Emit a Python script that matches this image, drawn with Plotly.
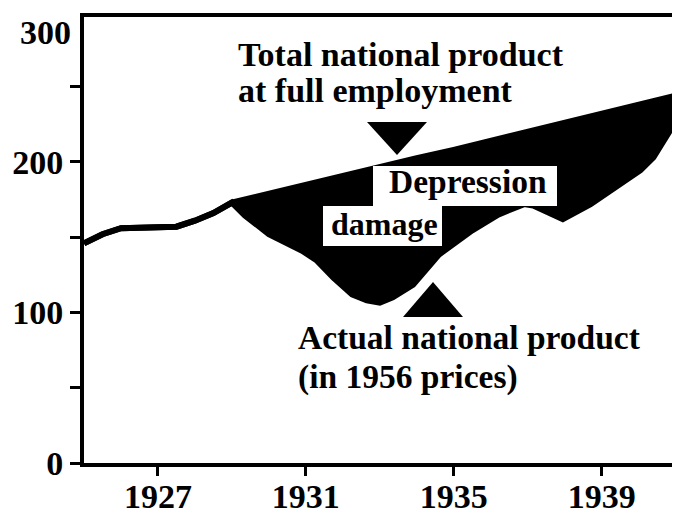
import plotly.graph_objects as go

# ---- data ----
years_potential = [1925.0, 1925.5, 1926.0, 1927.0, 1927.5, 1928.0, 1928.5, 1929.0,
                   1930, 1931, 1932, 1933, 1934, 1935, 1936, 1937, 1938, 1939, 1940, 1941]
potential = [146, 152, 156, 156.5, 157, 161, 166, 173,
             179, 185, 191, 197, 202.5, 208, 214, 220, 226, 232, 238, 244]

years_actual = [1925.0, 1925.5, 1926.0, 1927.0, 1927.5, 1928.0, 1928.5, 1929.0,
                1929.35, 1930.0, 1930.9, 1931.3, 1931.75, 1932.25, 1932.65, 1933.0,
                1933.35, 1933.9, 1934.6, 1935.5, 1936.2, 1936.9, 1937.15, 1937.95,
                1938.7, 1940.05, 1940.4, 1940.85, 1941]
actual = [146, 152, 156, 156.5, 157, 161, 166, 173,
          164.5, 152, 141, 134.5, 123, 112, 108, 106.5,
          110, 118.5, 138.5, 154.5, 165, 172, 171, 162,
          172, 194.5, 203, 221, 225]

x_tickvals = [1927, 1931, 1935, 1939]
x_ticktext = ["1927", "1931", "1935", "1939"]
y_tickvals = [0, 50, 100, 150, 200, 250]
y_ticktext = ["0", "", "100", "", "200", ""]

# ---- layout geometry (page body has an 8px margin) ----
OFF = 8
W, H = 680 - OFF, 513 - OFF
ML, MT = 84 - OFF, 17 - OFF
PW, PH = 589, 446
MR, MB = W - ML - PW, H - MT - PH


def px(xs):
    return (xs - OFF - ML) / PW


def py(ys):
    return (H - MB - (ys - OFF)) / PH


FONT = "Liberation Serif"

fig = go.Figure()
fig.add_trace(go.Scatter(x=years_potential, y=potential, mode="lines",
                         line=dict(color="black", width=6), showlegend=False,
                         hoverinfo="skip"))
fig.add_trace(go.Scatter(x=years_actual, y=actual, mode="lines",
                         line=dict(color="black", width=6), fill="tonexty",
                         fillcolor="black", showlegend=False, hoverinfo="skip"))

shapes = []
# white label boxes
shapes.append(dict(type="rect", xref="paper", yref="paper",
                   x0=px(373), x1=px(557), y0=py(206), y1=py(166),
                   fillcolor="white", line=dict(width=0), layer="above"))
shapes.append(dict(type="rect", xref="paper", yref="paper",
                   x0=px(323), x1=px(442), y0=py(246), y1=py(206),
                   fillcolor="white", line=dict(width=0), layer="above"))
# pointer triangles
shapes.append(dict(type="path", xref="paper", yref="paper",
                   path=f"M {px(367)},{py(122)} L {px(427)},{py(122)} L {px(397)},{py(155)} Z",
                   fillcolor="black", line=dict(width=0), layer="above"))
shapes.append(dict(type="path", xref="paper", yref="paper",
                   path=f"M {px(403)},{py(317)} L {px(463)},{py(317)} L {px(433)},{py(282)} Z",
                   fillcolor="black", line=dict(width=0), layer="above"))


def ann(text, x, y, xanchor="left", size=33.5):
    return dict(text=text, xref="paper", yref="paper", x=px(x), y=py(y),
                xanchor=xanchor, yanchor="middle", showarrow=False,
                font=dict(family=FONT, size=size, color="black", weight="bold"))


annotations = [
    ann("Total national product", 236, 54, size=34),
    ann("at full employment", 236, 90, size=34),
    ann("Depression", 387, 182, size=33.5),
    ann("damage", 329, 224, size=32),
    ann("Actual national product", 296, 337, size=33.5),
    ann("(in 1956 prices)", 296, 377, size=33.5),
    ann("300", 73, 33, xanchor="right", size=34),
]

fig.update_layout(
    width=W, height=H,
    margin=dict(l=ML, r=MR, t=MT, b=MB, autoexpand=False),
    paper_bgcolor="white", plot_bgcolor="white",
    shapes=shapes, annotations=annotations,
    xaxis=dict(range=[1925.0, 1940.93], tickvals=x_tickvals, ticktext=x_ticktext,
               ticks="outside", ticklen=9, tickwidth=3, tickcolor="black",
               ticklabelstandoff=-9,
               showline=True, linecolor="black", linewidth=4, mirror=True,
               showgrid=False, zeroline=False, automargin=False,
               tickfont=dict(family=FONT, size=34, color="black", weight="bold")),
    yaxis=dict(range=[0, 296.3], tickvals=y_tickvals, ticktext=y_ticktext,
               ticks="outside", ticklen=10, tickwidth=3, tickcolor="black",
               showline=True, linecolor="black", linewidth=4, mirror=True,
               showgrid=False, zeroline=False, automargin=False,
               tickfont=dict(family=FONT, size=34, color="black", weight="bold")),
)

fig.write_html("out.html")
